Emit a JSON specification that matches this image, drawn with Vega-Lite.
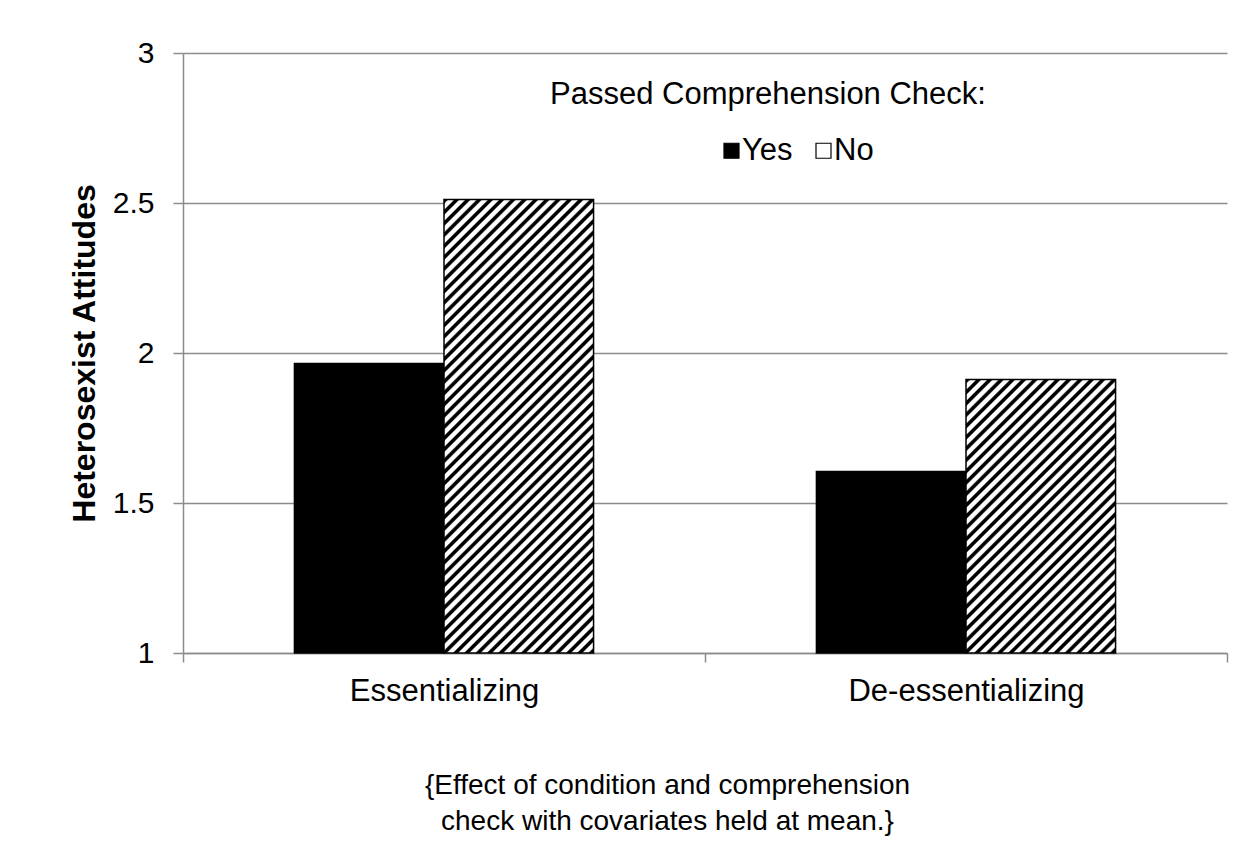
{
  "$schema": "https://vega.github.io/schema/vega-lite/v6.json",
  "width": 1044,
  "height": 600,
  "autosize": {"type": "none"},
  "padding": {"left": 183, "top": 53, "right": 21, "bottom": 204},
  "background": "white",
  "config": {
    "font": "Liberation Sans",
    "view": {"stroke": null}
  },
  "data": {
    "values": [
      {"cond": "Essentializing", "passed": "Yes", "value": 1.965},
      {"cond": "Essentializing", "passed": "No", "value": 2.512},
      {"cond": "De-essentializing", "passed": "Yes", "value": 1.605},
      {"cond": "De-essentializing", "passed": "No", "value": 1.912}
    ]
  },
  "mark": {"type": "bar", "stroke": "#000", "strokeWidth": 1.5},
  "encoding": {
    "x": {
      "field": "cond", "type": "nominal",
      "sort": ["Essentializing", "De-essentializing"],
      "scale": {"paddingInner": 0, "paddingOuter": 0},
      "axis": {
        "title": ["{Effect of condition and comprehension", "check with covariates held at mean.}"],
        "titleFontSize": 28, "titleFontWeight": "normal", "titleColor": "#000",
        "titleX": 484, "titleY": 118, "titleBaseline": "top", "titleLineHeight": 36, "titleAlign": "center",
        "labelAngle": 0, "labelFontSize": 31, "labelColor": "#000", "labelPadding": 14, "labelLimit": 0,
        "tickBand": "extent", "tickSize": 9, "tickColor": "#8c8c8c", "tickWidth": 1.5,
        "domainColor": "#8c8c8c", "domainWidth": 1.5, "grid": false
      }
    },
    "xOffset": {
      "field": "passed", "type": "nominal", "sort": ["Yes", "No"],
      "scale": {"paddingInner": 0, "paddingOuter": 0.745}
    },
    "y": {
      "field": "value", "type": "quantitative",
      "scale": {"domain": [1, 3], "nice": false, "zero": false},
      "axis": {
        "title": "Heterosexist Attitudes",
        "values": [1, 1.5, 2, 2.5, 3], "format": "~g",
        "titleFontSize": 32, "titleFontWeight": "bold", "titleColor": "#000",
        "titleX": -89, "titleY": 300, "titleAngle": -90, "titleBaseline": "alphabetic", "titleAlign": "center",
        "labelFontSize": 30, "labelColor": "#000", "labelPadding": 19,
        "tickSize": 10, "tickColor": "#8c8c8c", "tickWidth": 1.5,
        "domainColor": "#8c8c8c", "domainWidth": 1.5,
        "grid": true, "gridColor": "#8c8c8c", "gridWidth": 1.5
      }
    },
    "y2": {"datum": 1},
    "fill": {
      "condition": [
        {
          "test": "datum.cond === 'Essentializing' && datum.passed === 'No'",
          "value": {
            "gradient": "linear", "x1": 0, "y1": 0, "x2": 0.7409, "y2": 2.2469,
            "stops": [
{"offset":0,"color":"#000"},{"offset":0.003,"color":"#000"},{"offset":0.0045,"color":"#fff"},{"offset":0.0085,"color":"#fff"},
{"offset":0.01,"color":"#000"},{"offset":0.013,"color":"#000"},{"offset":0.0145,"color":"#fff"},{"offset":0.0185,"color":"#fff"},
{"offset":0.02,"color":"#000"},{"offset":0.023,"color":"#000"},{"offset":0.0245,"color":"#fff"},{"offset":0.0285,"color":"#fff"},
{"offset":0.03,"color":"#000"},{"offset":0.033,"color":"#000"},{"offset":0.0345,"color":"#fff"},{"offset":0.0385,"color":"#fff"},
{"offset":0.04,"color":"#000"},{"offset":0.043,"color":"#000"},{"offset":0.0445,"color":"#fff"},{"offset":0.0485,"color":"#fff"},
{"offset":0.05,"color":"#000"},{"offset":0.053,"color":"#000"},{"offset":0.0545,"color":"#fff"},{"offset":0.0585,"color":"#fff"},
{"offset":0.06,"color":"#000"},{"offset":0.063,"color":"#000"},{"offset":0.0645,"color":"#fff"},{"offset":0.0685,"color":"#fff"},
{"offset":0.07,"color":"#000"},{"offset":0.073,"color":"#000"},{"offset":0.0745,"color":"#fff"},{"offset":0.0785,"color":"#fff"},
{"offset":0.08,"color":"#000"},{"offset":0.083,"color":"#000"},{"offset":0.0845,"color":"#fff"},{"offset":0.0885,"color":"#fff"},
{"offset":0.09,"color":"#000"},{"offset":0.093,"color":"#000"},{"offset":0.0945,"color":"#fff"},{"offset":0.0985,"color":"#fff"},
{"offset":0.1,"color":"#000"},{"offset":0.103,"color":"#000"},{"offset":0.1045,"color":"#fff"},{"offset":0.1085,"color":"#fff"},
{"offset":0.11,"color":"#000"},{"offset":0.113,"color":"#000"},{"offset":0.1145,"color":"#fff"},{"offset":0.1185,"color":"#fff"},
{"offset":0.12,"color":"#000"},{"offset":0.123,"color":"#000"},{"offset":0.1245,"color":"#fff"},{"offset":0.1285,"color":"#fff"},
{"offset":0.13,"color":"#000"},{"offset":0.133,"color":"#000"},{"offset":0.1345,"color":"#fff"},{"offset":0.1385,"color":"#fff"},
{"offset":0.14,"color":"#000"},{"offset":0.143,"color":"#000"},{"offset":0.1445,"color":"#fff"},{"offset":0.1485,"color":"#fff"},
{"offset":0.15,"color":"#000"},{"offset":0.153,"color":"#000"},{"offset":0.1545,"color":"#fff"},{"offset":0.1585,"color":"#fff"},
{"offset":0.16,"color":"#000"},{"offset":0.163,"color":"#000"},{"offset":0.1645,"color":"#fff"},{"offset":0.1685,"color":"#fff"},
{"offset":0.17,"color":"#000"},{"offset":0.173,"color":"#000"},{"offset":0.1745,"color":"#fff"},{"offset":0.1785,"color":"#fff"},
{"offset":0.18,"color":"#000"},{"offset":0.183,"color":"#000"},{"offset":0.1845,"color":"#fff"},{"offset":0.1885,"color":"#fff"},
{"offset":0.19,"color":"#000"},{"offset":0.193,"color":"#000"},{"offset":0.1945,"color":"#fff"},{"offset":0.1985,"color":"#fff"},
{"offset":0.2,"color":"#000"},{"offset":0.203,"color":"#000"},{"offset":0.2045,"color":"#fff"},{"offset":0.2085,"color":"#fff"},
{"offset":0.21,"color":"#000"},{"offset":0.213,"color":"#000"},{"offset":0.2145,"color":"#fff"},{"offset":0.2185,"color":"#fff"},
{"offset":0.22,"color":"#000"},{"offset":0.223,"color":"#000"},{"offset":0.2245,"color":"#fff"},{"offset":0.2285,"color":"#fff"},
{"offset":0.23,"color":"#000"},{"offset":0.233,"color":"#000"},{"offset":0.2345,"color":"#fff"},{"offset":0.2385,"color":"#fff"},
{"offset":0.24,"color":"#000"},{"offset":0.243,"color":"#000"},{"offset":0.2445,"color":"#fff"},{"offset":0.2485,"color":"#fff"},
{"offset":0.25,"color":"#000"},{"offset":0.253,"color":"#000"},{"offset":0.2545,"color":"#fff"},{"offset":0.2585,"color":"#fff"},
{"offset":0.26,"color":"#000"},{"offset":0.263,"color":"#000"},{"offset":0.2645,"color":"#fff"},{"offset":0.2685,"color":"#fff"},
{"offset":0.27,"color":"#000"},{"offset":0.273,"color":"#000"},{"offset":0.2745,"color":"#fff"},{"offset":0.2785,"color":"#fff"},
{"offset":0.28,"color":"#000"},{"offset":0.283,"color":"#000"},{"offset":0.2845,"color":"#fff"},{"offset":0.2885,"color":"#fff"},
{"offset":0.29,"color":"#000"},{"offset":0.293,"color":"#000"},{"offset":0.2945,"color":"#fff"},{"offset":0.2985,"color":"#fff"},
{"offset":0.3,"color":"#000"},{"offset":0.303,"color":"#000"},{"offset":0.3045,"color":"#fff"},{"offset":0.3085,"color":"#fff"},
{"offset":0.31,"color":"#000"},{"offset":0.313,"color":"#000"},{"offset":0.3145,"color":"#fff"},{"offset":0.3185,"color":"#fff"},
{"offset":0.32,"color":"#000"},{"offset":0.323,"color":"#000"},{"offset":0.3245,"color":"#fff"},{"offset":0.3285,"color":"#fff"},
{"offset":0.33,"color":"#000"},{"offset":0.333,"color":"#000"},{"offset":0.3345,"color":"#fff"},{"offset":0.3385,"color":"#fff"},
{"offset":0.34,"color":"#000"},{"offset":0.343,"color":"#000"},{"offset":0.3445,"color":"#fff"},{"offset":0.3485,"color":"#fff"},
{"offset":0.35,"color":"#000"},{"offset":0.353,"color":"#000"},{"offset":0.3545,"color":"#fff"},{"offset":0.3585,"color":"#fff"},
{"offset":0.36,"color":"#000"},{"offset":0.363,"color":"#000"},{"offset":0.3645,"color":"#fff"},{"offset":0.3685,"color":"#fff"},
{"offset":0.37,"color":"#000"},{"offset":0.373,"color":"#000"},{"offset":0.3745,"color":"#fff"},{"offset":0.3785,"color":"#fff"},
{"offset":0.38,"color":"#000"},{"offset":0.383,"color":"#000"},{"offset":0.3845,"color":"#fff"},{"offset":0.3885,"color":"#fff"},
{"offset":0.39,"color":"#000"},{"offset":0.393,"color":"#000"},{"offset":0.3945,"color":"#fff"},{"offset":0.3985,"color":"#fff"},
{"offset":0.4,"color":"#000"},{"offset":0.403,"color":"#000"},{"offset":0.4045,"color":"#fff"},{"offset":0.4085,"color":"#fff"},
{"offset":0.41,"color":"#000"},{"offset":0.413,"color":"#000"},{"offset":0.4145,"color":"#fff"},{"offset":0.4185,"color":"#fff"},
{"offset":0.42,"color":"#000"},{"offset":0.423,"color":"#000"},{"offset":0.4245,"color":"#fff"},{"offset":0.4285,"color":"#fff"},
{"offset":0.43,"color":"#000"},{"offset":0.433,"color":"#000"},{"offset":0.4345,"color":"#fff"},{"offset":0.4385,"color":"#fff"},
{"offset":0.44,"color":"#000"},{"offset":0.443,"color":"#000"},{"offset":0.4445,"color":"#fff"},{"offset":0.4485,"color":"#fff"},
{"offset":0.45,"color":"#000"},{"offset":0.453,"color":"#000"},{"offset":0.4545,"color":"#fff"},{"offset":0.4585,"color":"#fff"},
{"offset":0.46,"color":"#000"},{"offset":0.463,"color":"#000"},{"offset":0.4645,"color":"#fff"},{"offset":0.4685,"color":"#fff"},
{"offset":0.47,"color":"#000"},{"offset":0.473,"color":"#000"},{"offset":0.4745,"color":"#fff"},{"offset":0.4785,"color":"#fff"},
{"offset":0.48,"color":"#000"},{"offset":0.483,"color":"#000"},{"offset":0.4845,"color":"#fff"},{"offset":0.4885,"color":"#fff"},
{"offset":0.49,"color":"#000"},{"offset":0.493,"color":"#000"},{"offset":0.4945,"color":"#fff"},{"offset":0.4985,"color":"#fff"},
{"offset":0.5,"color":"#000"},{"offset":0.503,"color":"#000"},{"offset":0.5045,"color":"#fff"},{"offset":0.5085,"color":"#fff"},
{"offset":0.51,"color":"#000"},{"offset":0.513,"color":"#000"},{"offset":0.5145,"color":"#fff"},{"offset":0.5185,"color":"#fff"},
{"offset":0.52,"color":"#000"},{"offset":0.523,"color":"#000"},{"offset":0.5245,"color":"#fff"},{"offset":0.5285,"color":"#fff"},
{"offset":0.53,"color":"#000"},{"offset":0.533,"color":"#000"},{"offset":0.5345,"color":"#fff"},{"offset":0.5385,"color":"#fff"}
            ]
          }
        },
        {
          "test": "datum.cond === 'De-essentializing' && datum.passed === 'No'",
          "value": {
            "gradient": "linear", "x1": 0, "y1": 0, "x2": 1.7383, "y2": 3.1798,
            "stops": [
{"offset":0,"color":"#000"},{"offset":0.003,"color":"#000"},{"offset":0.0045,"color":"#fff"},{"offset":0.0085,"color":"#fff"},
{"offset":0.01,"color":"#000"},{"offset":0.013,"color":"#000"},{"offset":0.0145,"color":"#fff"},{"offset":0.0185,"color":"#fff"},
{"offset":0.02,"color":"#000"},{"offset":0.023,"color":"#000"},{"offset":0.0245,"color":"#fff"},{"offset":0.0285,"color":"#fff"},
{"offset":0.03,"color":"#000"},{"offset":0.033,"color":"#000"},{"offset":0.0345,"color":"#fff"},{"offset":0.0385,"color":"#fff"},
{"offset":0.04,"color":"#000"},{"offset":0.043,"color":"#000"},{"offset":0.0445,"color":"#fff"},{"offset":0.0485,"color":"#fff"},
{"offset":0.05,"color":"#000"},{"offset":0.053,"color":"#000"},{"offset":0.0545,"color":"#fff"},{"offset":0.0585,"color":"#fff"},
{"offset":0.06,"color":"#000"},{"offset":0.063,"color":"#000"},{"offset":0.0645,"color":"#fff"},{"offset":0.0685,"color":"#fff"},
{"offset":0.07,"color":"#000"},{"offset":0.073,"color":"#000"},{"offset":0.0745,"color":"#fff"},{"offset":0.0785,"color":"#fff"},
{"offset":0.08,"color":"#000"},{"offset":0.083,"color":"#000"},{"offset":0.0845,"color":"#fff"},{"offset":0.0885,"color":"#fff"},
{"offset":0.09,"color":"#000"},{"offset":0.093,"color":"#000"},{"offset":0.0945,"color":"#fff"},{"offset":0.0985,"color":"#fff"},
{"offset":0.1,"color":"#000"},{"offset":0.103,"color":"#000"},{"offset":0.1045,"color":"#fff"},{"offset":0.1085,"color":"#fff"},
{"offset":0.11,"color":"#000"},{"offset":0.113,"color":"#000"},{"offset":0.1145,"color":"#fff"},{"offset":0.1185,"color":"#fff"},
{"offset":0.12,"color":"#000"},{"offset":0.123,"color":"#000"},{"offset":0.1245,"color":"#fff"},{"offset":0.1285,"color":"#fff"},
{"offset":0.13,"color":"#000"},{"offset":0.133,"color":"#000"},{"offset":0.1345,"color":"#fff"},{"offset":0.1385,"color":"#fff"},
{"offset":0.14,"color":"#000"},{"offset":0.143,"color":"#000"},{"offset":0.1445,"color":"#fff"},{"offset":0.1485,"color":"#fff"},
{"offset":0.15,"color":"#000"},{"offset":0.153,"color":"#000"},{"offset":0.1545,"color":"#fff"},{"offset":0.1585,"color":"#fff"},
{"offset":0.16,"color":"#000"},{"offset":0.163,"color":"#000"},{"offset":0.1645,"color":"#fff"},{"offset":0.1685,"color":"#fff"},
{"offset":0.17,"color":"#000"},{"offset":0.173,"color":"#000"},{"offset":0.1745,"color":"#fff"},{"offset":0.1785,"color":"#fff"},
{"offset":0.18,"color":"#000"},{"offset":0.183,"color":"#000"},{"offset":0.1845,"color":"#fff"},{"offset":0.1885,"color":"#fff"},
{"offset":0.19,"color":"#000"},{"offset":0.193,"color":"#000"},{"offset":0.1945,"color":"#fff"},{"offset":0.1985,"color":"#fff"},
{"offset":0.2,"color":"#000"},{"offset":0.203,"color":"#000"},{"offset":0.2045,"color":"#fff"},{"offset":0.2085,"color":"#fff"},
{"offset":0.21,"color":"#000"},{"offset":0.213,"color":"#000"},{"offset":0.2145,"color":"#fff"},{"offset":0.2185,"color":"#fff"},
{"offset":0.22,"color":"#000"},{"offset":0.223,"color":"#000"},{"offset":0.2245,"color":"#fff"},{"offset":0.2285,"color":"#fff"},
{"offset":0.23,"color":"#000"},{"offset":0.233,"color":"#000"},{"offset":0.2345,"color":"#fff"},{"offset":0.2385,"color":"#fff"},
{"offset":0.24,"color":"#000"},{"offset":0.243,"color":"#000"},{"offset":0.2445,"color":"#fff"},{"offset":0.2485,"color":"#fff"},
{"offset":0.25,"color":"#000"},{"offset":0.253,"color":"#000"},{"offset":0.2545,"color":"#fff"},{"offset":0.2585,"color":"#fff"},
{"offset":0.26,"color":"#000"},{"offset":0.263,"color":"#000"},{"offset":0.2645,"color":"#fff"},{"offset":0.2685,"color":"#fff"},
{"offset":0.27,"color":"#000"},{"offset":0.273,"color":"#000"},{"offset":0.2745,"color":"#fff"},{"offset":0.2785,"color":"#fff"},
{"offset":0.28,"color":"#000"},{"offset":0.283,"color":"#000"},{"offset":0.2845,"color":"#fff"},{"offset":0.2885,"color":"#fff"},
{"offset":0.29,"color":"#000"},{"offset":0.293,"color":"#000"},{"offset":0.2945,"color":"#fff"},{"offset":0.2985,"color":"#fff"},
{"offset":0.3,"color":"#000"},{"offset":0.303,"color":"#000"},{"offset":0.3045,"color":"#fff"},{"offset":0.3085,"color":"#fff"},
{"offset":0.31,"color":"#000"},{"offset":0.313,"color":"#000"},{"offset":0.3145,"color":"#fff"},{"offset":0.3185,"color":"#fff"},
{"offset":0.32,"color":"#000"},{"offset":0.323,"color":"#000"},{"offset":0.3245,"color":"#fff"},{"offset":0.3285,"color":"#fff"},
{"offset":0.33,"color":"#000"},{"offset":0.333,"color":"#000"},{"offset":0.3345,"color":"#fff"},{"offset":0.3385,"color":"#fff"},
{"offset":0.34,"color":"#000"},{"offset":0.343,"color":"#000"},{"offset":0.3445,"color":"#fff"},{"offset":0.3485,"color":"#fff"},
{"offset":0.35,"color":"#000"},{"offset":0.353,"color":"#000"},{"offset":0.3545,"color":"#fff"},{"offset":0.3585,"color":"#fff"},
{"offset":0.36,"color":"#000"},{"offset":0.363,"color":"#000"},{"offset":0.3645,"color":"#fff"},{"offset":0.3685,"color":"#fff"},
{"offset":0.37,"color":"#000"},{"offset":0.373,"color":"#000"},{"offset":0.3745,"color":"#fff"},{"offset":0.3785,"color":"#fff"}
            ]
          }
        }
      ],
      "field": "passed", "type": "nominal", "sort": ["Yes", "No"],
      "scale": {"domain": ["Yes", "No"], "range": ["#000", "#fff"]},
      "legend": {
        "orient": "none", "legendX": 367, "legendY": 27,
        "direction": "horizontal",
        "title": "Passed Comprehension Check:",
        "titleFont": "Liberation Sans", "titleFontSize": 31, "titleFontWeight": "normal", "titleColor": "#000",
        "titleLimit": 1000, "titlePadding": 24, "titleAnchor": "start",
        "labelFont": "Liberation Sans", "labelFontSize": 31, "labelColor": "#000", "labelOffset": -5,
        "symbolType": "square", "symbolSize": 225, "symbolStrokeColor": "#000", "symbolStrokeWidth": 1.2,
        "columnPadding": 15, "padding": 0,
        "encode": {
          "title": {"update": {"dx": {"value": -166}}},
          "symbols": {"update": {
            "stroke": {"value": "#000"},
            "strokeWidth": {"value": 1.2}
          }}
        }
      }
    }
  }
}
